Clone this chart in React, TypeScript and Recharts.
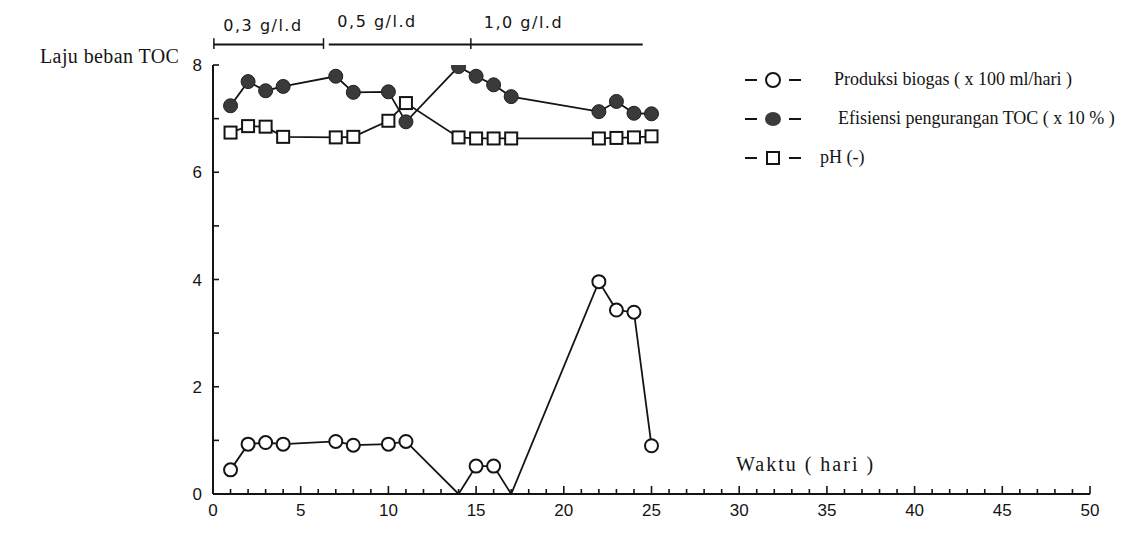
import React from 'react';
import { LineChart, Line, XAxis, YAxis, ReferenceLine, ReferenceDot, Legend } from 'recharts';

// ---- data ----
const days = [1, 2, 3, 4, 7, 8, 10, 11, 14, 15, 16, 17, 22, 23, 24, 25];
const biogas = [0.45, 0.93, 0.96, 0.93, 0.98, 0.91, 0.93, 0.98, 0, 0.52, 0.52, 0, 3.96, 3.43, 3.39, 0.9];
const efisiensi = [7.24, 7.69, 7.52, 7.6, 7.79, 7.49, 7.5, 6.94, 7.97, 7.79, 7.63, 7.41, 7.13, 7.32, 7.1, 7.09];
const ph = [6.74, 6.86, 6.85, 6.66, 6.65, 6.66, 6.96, 7.29, 6.65, 6.63, 6.63, 6.63, 6.63, 6.64, 6.65, 6.67];

const seriesOrder = ['biogas', 'efisiensi', 'ph'];
const seriesNames: Record<string, string> = {
  biogas: 'Produksi biogas ( x 100 ml/hari )',
  efisiensi: 'Efisiensi pengurangan TOC ( x 10 % )',
  ph: 'pH (-)',
};

const xTicks = Array.from({ length: 51 }, (_, i) => i);
const yTicks = [0, 1, 2, 3, 4, 5, 6, 7, 8];
const yLabelTicks = [0, 2, 4, 6, 8];

// loading-rate periods shown above the plot
const periodLabels = ['0,3 g/l.d', '0,5 g/l.d', '1,0 g/l.d'];
const periodLabelX = [2.85, 9.35, 17.7];
const periodLabelY = [8.74, 8.82, 8.79];
const periodSegments = [
  [0.05, 6.3],
  [6.6, 24.5],
];
const periodTicks = [0.05, 6.3, 14.7];

const data = days.map((d, i) => ({ day: d, biogas: biogas[i], efisiensi: efisiensi[i], ph: ph[i] }));

const INK = '#141414';
const SANS = '"Liberation Sans", Arial, sans-serif';
const SERIF = '"Liberation Serif", "Times New Roman", serif';

const XTick = (props: any) => {
  const { x, y, payload } = props;
  const v = payload.value;
  const major = v % 5 === 0;
  return (
    <g>
      <line x1={x} x2={x} y1={y} y2={y - (major ? 8 : 5)} stroke={INK} strokeWidth={1.6} />
      {major && (
        <text x={x} y={y + 22} textAnchor="middle" fontSize={17} fontFamily={SANS} fill={INK}>
          {v}
        </text>
      )}
    </g>
  );
};

const YTick = (props: any) => {
  const { x, y, payload } = props;
  const v = payload.value;
  const labeled = yLabelTicks.includes(v);
  return (
    <g>
      <line x1={x} x2={x + 6} y1={y} y2={y} stroke={INK} strokeWidth={1.6} />
      {labeled && (
        <text x={x - 11} y={y + 6} textAnchor="end" fontSize={17} fontFamily={SANS} fill={INK}>
          {v}
        </text>
      )}
    </g>
  );
};

const OpenCircle = (p: any) => {
  if (p.value === 0 || p.cx == null) return <g key={p.key} />;
  return <circle key={p.key} cx={p.cx} cy={p.cy} r={6.5} fill="#fff" stroke={INK} strokeWidth={2} />;
};
const FilledCircle = (p: any) => {
  if (p.cx == null) return <g key={p.key} />;
  return <circle key={p.key} cx={p.cx} cy={p.cy} r={7} fill="#3a3a3a" stroke="#202020" strokeWidth={1} />;
};
const OpenSquare = (p: any) => {
  if (p.cx == null) return <g key={p.key} />;
  return <rect key={p.key} x={p.cx - 6} y={p.cy - 6} width={12} height={12} fill="#fff" stroke={INK} strokeWidth={2} />;
};

const legendGap: Record<string, number> = { biogas: 30, efisiensi: 34, ph: 16 };

const LegendSymbol = ({ k }: { k: string }) => (
  <svg width={62} height={20} style={{ display: 'block', flex: 'none' }}>
    <line x1={3} x2={15} y1={10} y2={10} stroke={INK} strokeWidth={2} />
    <line x1={47} x2={59} y1={10} y2={10} stroke={INK} strokeWidth={2} />
    {k === 'biogas' && <circle cx={31} cy={10} r={7} fill="#fff" stroke={INK} strokeWidth={2} />}
    {k === 'efisiensi' && <ellipse cx={31} cy={10} rx={8} ry={7} fill="#3a3a3a" />}
    {k === 'ph' && <rect x={25} y={4} width={12} height={12} fill="#fff" stroke={INK} strokeWidth={2} />}
  </svg>
);

const renderLegend = (props: any) => {
  const items = [...(props.payload || [])].sort(
    (a: any, b: any) => seriesOrder.indexOf(a.dataKey) - seriesOrder.indexOf(b.dataKey)
  );
  return (
    <div style={{ display: 'flex', flexDirection: 'column' }}>
      {items.map((it: any) => {
        const k = it.dataKey as string;
        return (
          <div key={k} style={{ display: 'flex', alignItems: 'center', height: 39, whiteSpace: 'nowrap' }}>
            <LegendSymbol k={k} />
            <span
              style={{
                marginLeft: legendGap[k],
                fontFamily: SERIF,
                fontSize: 18,
                color: INK,
              }}
            >
              {it.value}
            </span>
          </div>
        );
      })}
    </div>
  );
};

export default function App() {
  return (
    <div
      style={{
        position: 'absolute',
        left: 0,
        top: 0,
        width: 1136,
        height: 533,
        overflow: 'hidden',
        background: '#fff',
      }}
    >
      <div
        style={{
          position: 'absolute',
          left: 40,
          top: 45,
          fontFamily: SERIF,
          fontSize: 20,
          letterSpacing: 0.4,
          color: INK,
          whiteSpace: 'nowrap',
        }}
      >
        Laju beban TOC
      </div>
      <div
        style={{
          position: 'absolute',
          left: 736,
          top: 453,
          fontFamily: SERIF,
          fontSize: 20,
          letterSpacing: 2,
          color: INK,
          whiteSpace: 'nowrap',
        }}
      >
        Waktu ( hari )
      </div>
      <LineChart width={1136} height={533} data={data} margin={{ top: 65, right: 46, bottom: 9, left: 153 }}>
        <XAxis
          dataKey="day"
          type="number"
          domain={[0, 50]}
          ticks={xTicks}
          interval={0}
          tick={<XTick />}
          tickSize={0}
          tickMargin={0}
          tickLine={false}
          axisLine={{ stroke: INK, strokeWidth: 2 }}
          height={30}
          allowDataOverflow
        />
        <YAxis
          type="number"
          domain={[0, 8]}
          ticks={yTicks}
          interval={0}
          tick={<YTick />}
          tickSize={0}
          tickMargin={0}
          tickLine={false}
          axisLine={{ stroke: INK, strokeWidth: 2 }}
          width={60}
          allowDataOverflow
        />
        {periodSegments.map((s, i) => (
          <ReferenceLine
            key={'seg' + i}
            segment={[
              { x: s[0], y: 8.38 },
              { x: s[1], y: 8.38 },
            ]}
            stroke={INK}
            strokeWidth={2}
            ifOverflow="visible"
          />
        ))}
        {periodTicks.map((t, i) => (
          <ReferenceLine
            key={'pt' + i}
            segment={[
              { x: t, y: 8.3 },
              { x: t, y: 8.5 },
            ]}
            stroke={INK}
            strokeWidth={1.5}
            ifOverflow="visible"
          />
        ))}
        {periodLabels.map((l, i) => (
          <ReferenceDot
            key={'pl' + i}
            x={periodLabelX[i]}
            y={periodLabelY[i]}
            r={0}
            fill="none"
            stroke="none"
            ifOverflow="visible"
            label={{
              value: l,
              position: 'center',
              fontSize: 16,
              fontFamily: '"DejaVu Sans", sans-serif',
              fill: INK,
              letterSpacing: 1.5,
            }}
          />
        ))}
        <Legend
          layout="vertical"
          align="center"
          verticalAlign="middle"
          content={renderLegend}
          wrapperStyle={{ left: 742, top: 60, width: 394 }}
        />
        <Line
          name={seriesNames.biogas}
          dataKey="biogas"
          stroke={INK}
          strokeWidth={1.8}
          dot={OpenCircle}
          activeDot={false}
          isAnimationActive={false}
        />
        <Line
          name={seriesNames.efisiensi}
          dataKey="efisiensi"
          stroke={INK}
          strokeWidth={1.8}
          dot={FilledCircle}
          activeDot={false}
          isAnimationActive={false}
        />
        <Line
          name={seriesNames.ph}
          dataKey="ph"
          stroke={INK}
          strokeWidth={1.8}
          dot={OpenSquare}
          activeDot={false}
          isAnimationActive={false}
        />
      </LineChart>
    </div>
  );
}
